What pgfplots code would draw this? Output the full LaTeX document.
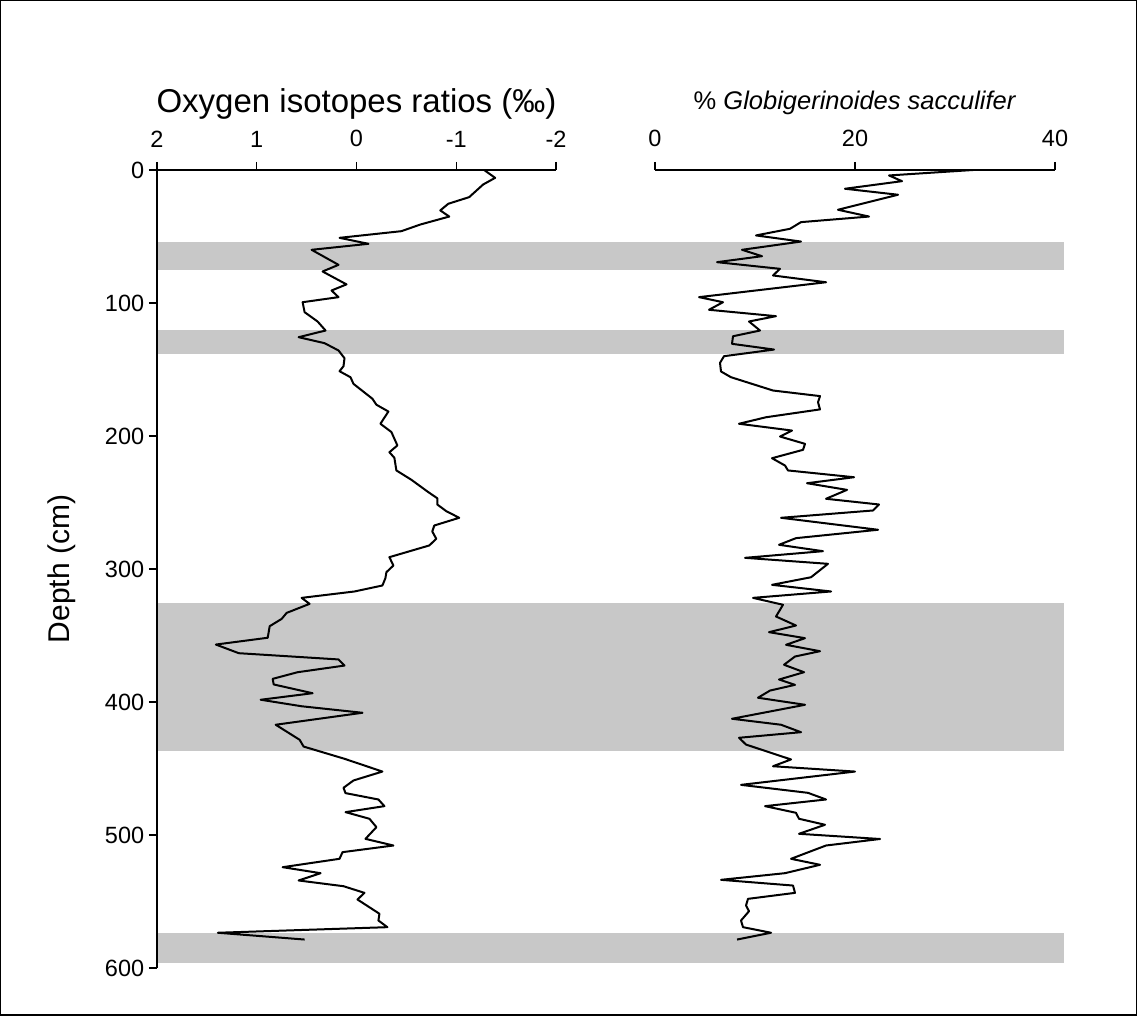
\documentclass[border=0pt]{standalone}
\usepackage{pgfplots}
\pgfplotsset{compat=1.18}
\usepackage{fontspec}
\setmainfont{Liberation Sans}
\definecolor{bandgray}{RGB}{200,200,200}
\begin{document}
\begin{tikzpicture}
\useasboundingbox (0,0) rectangle (454.8pt,406.4pt);
\draw[line width=0.6pt] (0.3pt,0.3pt) rectangle (454.5pt,406.1pt);
\pgfplotsset{
  every tick label/.append style={font=\fontsize{9.4}{11}\selectfont},
  /pgf/number format/assume math mode=true,
  common/.style={
    anchor=south west, scale only axis, height=319.2pt,
    ymin=0, ymax=600, y dir=reverse,
    title style={at={(axis description cs:0.5,1)}, anchor=base, yshift=18pt, font=\fontsize{10.4}{12}\selectfont},
  },
  fixlines/.style={
    axis line style={-, line width=0.55pt},
    every outer x axis line/.append style={-},
    every outer y axis line/.append style={-},
    tick style={black, line width=0.55pt},
    major tick length=3.2pt, tick align=outside,
    xticklabel style={yshift=2.4pt},
    yticklabel style={xshift=1.6pt},
  }
}
\begin{axis}[common, at={(62.8pt,19.2pt)}, width=159.6pt,
  xmin=-2, xmax=2, x dir=reverse, clip=false, axis on top,
  axis x line=top, axis y line=left, fixlines,
  xtick={-2,-1,0,1,2}, ytick={0,100,...,600},
  title={Oxygen isotopes ratios (‰)},
  title style={font=\fontsize{13.2}{15}\selectfont, yshift=-1pt},
  ylabel={Depth (cm)},
  ylabel style={at={(axis description cs:0,0.5)}, anchor=center, yshift=38pt, font=\fontsize{12}{14}\selectfont},
]
\addplot[fill=bandgray, draw=none] coordinates {(2,53.8) (-7.09,53.8) (-7.09,75) (2,75)} -- cycle;
\addplot[fill=bandgray, draw=none] coordinates {(2,120) (-7.09,120) (-7.09,138.7) (2,138.7)} -- cycle;
\addplot[fill=bandgray, draw=none] coordinates {(2,325.7) (-7.09,325.7) (-7.09,436.5) (2,436.5)} -- cycle;
\addplot[fill=bandgray, draw=none] coordinates {(2,573.8) (-7.09,573.8) (-7.09,596.6) (2,596.6)} -- cycle;
\addplot[black, line width=0.8pt, line join=round] coordinates {
(-1.28,0) (-1.39,5.9) (-1.27,10.9) (-1.13,20.4) (-0.92,25.4) (-0.84,30.4) (-0.93,35)
(-0.64,41) (-0.45,46) (0.17,51) (-0.12,55.5) (0.45,60) (0.18,71.3) (0.34,76.3) (0.10,86)
(0.25,90.6) (0.18,95.6) (0.54,99.4) (0.52,106.9) (0.39,113.9) (0.31,120.7) (0.58,125.7)
(0.32,130.2) (0.18,135.7) (0.12,141.5) (0.13,147.5) (0.17,151.3) (0.06,155.8) (0.03,160.8)
(-0.16,172) (-0.20,176.5) (-0.32,181.6) (-0.24,190.8) (-0.35,197) (-0.41,207.1) (-0.33,212.2)
(-0.38,216.4) (-0.40,225.9) (-0.55,232.9) (-0.72,242.2) (-0.81,246.8) (-0.81,251.5)
(-0.90,256.5) (-1.03,261.5) (-0.78,267.3) (-0.76,271.8) (-0.80,277.3) (-0.73,282.3)
(-0.33,291.1) (-0.37,297.4) (-0.30,302.4) (-0.29,306.9) (-0.26,312.4) (0.02,316.9)
(0.55,321.7) (0.47,326.2) (0.70,333) (0.75,337.5) (0.87,343) (0.89,351.7) (1.41,356.8)
(1.18,363.3) (0.18,368) (0.12,372.6) (0.59,377.6) (0.84,382.6) (0.83,386.8) (0.44,393.4)
(0.96,398.3) (0.55,403.2) (-0.06,408.1) (0.81,417.1) (0.57,428.4) (0.53,433.5) (0.12,442.7)
(-0.26,452.3) (0.03,459) (0.13,464.5) (0.11,468.5) (-0.22,473.3) (-0.28,478.3) (0.11,482.8)
(-0.13,487.8) (-0.20,494.1) (-0.09,502.9) (-0.37,507.9) (0.14,512.9) (0.17,517.9) (0.74,524.2)
(0.36,528.7) (0.58,534.2) (0.13,538.5) (-0.08,543.5) (-0.01,548.5) (-0.23,559.2) (-0.22,564.3)
(-0.31,569.3) (1.39,573.5) (0.52,578.6)
};
\end{axis}
\begin{axis}[common, at={(262pt,19.2pt)}, width=160pt,
  xmin=0, xmax=40,
  axis x line=top, axis y line=none, fixlines,
  xtick={0,20,40},
  title={\% \textit{Globigerinoides sacculifer}},
  title style={font=\fontsize{10.2}{12}\selectfont},
]
\addplot[black, line width=0.8pt, line join=round] coordinates {
(31.8,0) (23.4,4.1) (24.7,8.4) (19.0,14.1) (24.3,18.6) (18.3,29.9) (21.4,35) (14.6,39.2)
(13.5,44.2) (10.1,49.2) (14.6,53.8) (8.7,60) (10.7,64.8) (6.2,69.3) (12.5,74.3) (11.8,79.3)
(17.1,84.4) (4.4,95.6) (6.8,99.4) (5.4,105.1) (12.1,109.9) (9.4,113.9) (10.5,120.7) (7.8,125)
(7.7,130.7) (11.9,135) (6.9,140) (6.5,145) (6.6,151.5) (7.6,155.8) (11.8,165.8) (16.5,170)
(16.3,174.6) (16.5,180) (11.1,185.9) (8.4,190.8) (13.7,195.9) (12.5,200.4) (15.0,205.9)
(14.8,210.4) (11.7,216.7) (13.0,222.2) (13.3,225.9) (19.9,231) (15.2,235.5) (19.2,240.5)
(17.1,247.2) (22.4,251.5) (21.8,256) (12.6,261.5) (22.3,270.5) (14.1,276.8) (12.4,281.8)
(16.8,286.6) (9.0,291.6) (17.3,296.1) (15.6,306.2) (11.7,311.9) (17.6,316.9) (9.8,321.7)
(12.8,326.9) (12.1,335.7) (14.1,342.5) (11.4,347.5) (15.0,352) (13.1,357) (16.5,361.8)
(14.0,365.8) (12.9,372) (14.9,377.6) (12.4,383.1) (14.0,387.1) (11.5,391.4) (10.3,396.8)
(15.0,402.1) (7.7,412.6) (12.6,417.1) (14.6,422.7) (8.4,426.9) (9.1,432) (13.6,443.2)
(11.8,448.3) (20.0,452.3) (8.6,462.3) (15.3,468.3) (17.1,473.3) (11.0,478.3) (14.1,483.3)
(14.4,487.8) (17.0,492.3) (14.4,499.1) (22.5,503) (17.1,507.9) (13.6,517.9) (16.5,522.4)
(13.0,528.7) (6.6,533.7) (13.8,538) (14.0,543.5) (9.3,548) (9.1,553) (9.4,557.3) (8.6,564.3)
(8.8,569.3) (11.6,573.5) (8.2,578.6)
};
\end{axis}
\end{tikzpicture}
\end{document}
